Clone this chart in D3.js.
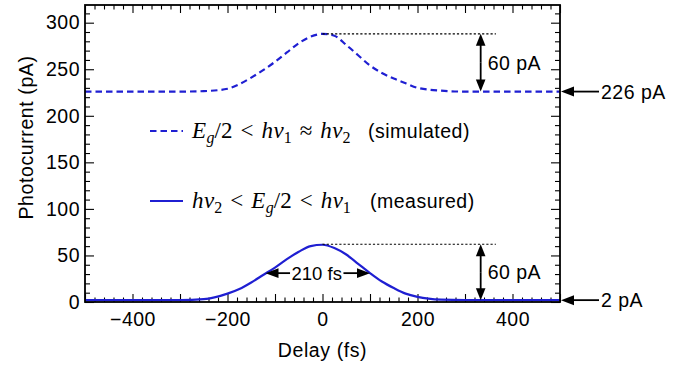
<!DOCTYPE html>
<html>
<head>
<meta charset="utf-8">
<script src="https://cdn.jsdelivr.net/npm/d3@7"></script>
<style>
  body { margin: 0; background: #fff; }
</style>
</head>
<body>
<div id="chart"></div>
<script>
// delay (fs) sample points and photocurrent (pA)
const delays    = [-500, -400, -300, -250, -200, -175, -150, -125, -100, -75, -50, -25, 0, 25, 50, 75, 100, 125, 150, 175, 200, 250, 300, 400, 500];
const simulated = [226, 226, 226, 226.5, 229, 234, 241, 249, 258, 268, 278, 285, 288, 286, 276, 265, 254, 246, 240, 235, 230, 227, 226, 226, 226];
const measured  = [2, 2, 2, 3, 9, 14, 21, 29, 37, 46, 54, 60, 61.5, 58, 51, 41, 31, 22, 15, 9, 5.5, 2.5, 2, 2, 2];

const xMajorTicks = [-500, -400, -300, -200, -100, 0, 100, 200, 300, 400, 500];
const xLabelTicks = [-400, -200, 0, 200, 400];
const yLabelTicks = [0, 50, 100, 150, 200, 250, 300];

// annotation values
const simBase = 226, simPeak = 288, measBase = 2, measPeak = 62;
const heightLabel = "60 pA";
const fwhmLeft = -120, fwhmRight = 100, fwhmLevel = 31, fwhmLabel = "210 fs";
const markerDelay = 333, dottedEnd = 365;

const W = 684, H = 367;
const margin = { top: 5, right: 124, bottom: 65, left: 85 };
const blue = "#1f1fd2";
const fontSize = 19.5;
const sans = "'Liberation Sans', Arial, sans-serif";
const serif = "'Liberation Serif', 'DejaVu Serif', serif";

const svg = d3.select("#chart").append("svg")
    .attr("width", W)
    .attr("height", H)
    .attr("font-family", sans);

const x = d3.scaleLinear().domain([-500, 500]).range([margin.left, W - margin.right]);
const y = d3.scaleLinear().domain([0, 319]).range([H - margin.bottom, margin.top]);

const x0 = margin.left, x1 = W - margin.right, y0 = H - margin.bottom, y1 = margin.top;

// ticks (all inward)
const tickAxis = (axis, scale, values, size, tx, ty) => svg.append("g")
    .attr("transform", `translate(${tx},${ty})`)
    .call(axis(scale).tickValues(values).tickSize(-size).tickFormat(""))
    .call(g => g.select(".domain").remove())
    .call(g => g.selectAll(".tick line").attr("stroke", "#000").attr("stroke-width", 1.1));

const xMinor = d3.range(-500, 501, 20).filter(v => v % 100 !== 0);
const yMinor = d3.range(0, 320, 10).filter(v => v % 50 !== 0);

tickAxis(d3.axisBottom, x, xMajorTicks, 8, 0, y0);
tickAxis(d3.axisBottom, x, xMinor, 4.5, 0, y0);
tickAxis(d3.axisTop, x, xMajorTicks, 8, 0, y1);
tickAxis(d3.axisTop, x, xMinor, 4.5, 0, y1);
tickAxis(d3.axisLeft, y, yLabelTicks, 9, x0, 0);
tickAxis(d3.axisLeft, y, yMinor, 5, x0, 0);
tickAxis(d3.axisRight, y, yLabelTicks, 9, x1, 0);
tickAxis(d3.axisRight, y, yMinor, 5, x1, 0);

// tick labels
svg.append("g")
    .attr("transform", `translate(0,${y0})`)
    .call(d3.axisBottom(x).tickValues(xLabelTicks).tickSize(0).tickPadding(10.5)
        .tickFormat(d => d < 0 ? "\u2212" + Math.abs(d) : d))
    .call(g => g.select(".domain").remove())
    .call(g => g.selectAll("text").attr("font-size", fontSize).attr("font-family", sans)
        .attr("fill", "#000").style("letter-spacing", "0.5px"));

svg.append("g")
    .attr("transform", `translate(${x0},0)`)
    .call(d3.axisLeft(y).tickValues(yLabelTicks).tickSize(0).tickPadding(5))
    .call(g => g.select(".domain").remove())
    .call(g => g.selectAll("text").attr("font-size", fontSize).attr("font-family", sans)
        .attr("fill", "#000").style("letter-spacing", "0.5px"));

// axis titles
svg.append("text")
    .attr("x", x(0))
    .attr("y", 357)
    .attr("text-anchor", "middle")
    .attr("font-size", fontSize)
    .style("letter-spacing", "0.6px")
    .text("Delay (fs)");

svg.append("text")
    .attr("transform", `translate(33,${(y0 + y1) / 2 - 16}) rotate(-90)`)
    .attr("text-anchor", "middle")
    .attr("font-size", fontSize)
    .style("letter-spacing", "0.6px")
    .text("Photocurrent (pA)");

// curves
const line = d3.line()
    .curve(d3.curveMonotoneX)
    .x(d => x(d[0]))
    .y(d => y(d[1]));

svg.append("path")
    .datum(delays.map((d, i) => [d, simulated[i]]))
    .attr("fill", "none")
    .attr("stroke", blue)
    .attr("stroke-width", 2.2)
    .attr("stroke-dasharray", "6.5,4")
    .attr("d", line);

svg.append("path")
    .datum(delays.map((d, i) => [d, measured[i]]))
    .attr("fill", "none")
    .attr("stroke", blue)
    .attr("stroke-width", 2.2)
    .attr("d", line);

// frame
svg.append("rect")
    .attr("x", x0).attr("y", y1)
    .attr("width", x1 - x0).attr("height", y0 - y1)
    .attr("fill", "none")
    .attr("stroke", "#000")
    .attr("stroke-width", 1.8);

// arrows
const arrow = (xa, ya, xb, yb, len = 12, half = 4.8) => {
    const ang = Math.atan2(yb - ya, xb - xa);
    const bx = xb - len * Math.cos(ang), by = yb - len * Math.sin(ang);
    svg.append("line")
        .attr("x1", xa).attr("y1", ya).attr("x2", bx + 1 * Math.cos(ang)).attr("y2", by + 1 * Math.sin(ang))
        .attr("stroke", "#000").attr("stroke-width", 1.8);
    svg.append("path")
        .attr("d", `M${xb},${yb}L${bx - half * Math.sin(ang)},${by + half * Math.cos(ang)}L${bx + half * Math.sin(ang)},${by - half * Math.cos(ang)}Z`)
        .attr("fill", "#000");
};

// dotted peak lines
[simPeak, measPeak].forEach(v => {
    svg.append("line")
        .attr("x1", x(0)).attr("x2", x(dottedEnd))
        .attr("y1", y(v)).attr("y2", y(v))
        .attr("stroke", "#000")
        .attr("stroke-width", 1.1)
        .attr("stroke-dasharray", "2.2,2");
});

// vertical 60 pA arrows
[[simBase, simPeak], [measBase, measPeak]].forEach(([lo, hi]) => {
    const mid = (y(lo) + y(hi)) / 2;
    arrow(x(markerDelay), mid, x(markerDelay), y(hi));
    arrow(x(markerDelay), mid, x(markerDelay), y(lo));
    svg.append("text")
        .attr("x", x(markerDelay) + 7)
        .attr("y", mid)
        .attr("dy", "0.36em")
        .attr("font-size", fontSize)
        .style("letter-spacing", "0.5px")
        .text(heightLabel);
});

// baseline arrows on the right
[[simBase, "226 pA"], [measBase, "2 pA"]].forEach(([v, label]) => {
    arrow(x1 + 39, y(v), x1 + 1, y(v), 13, 5);
    svg.append("text")
        .attr("x", x1 + 41)
        .attr("y", y(v))
        .attr("dy", "0.36em")
        .attr("font-size", fontSize)
        .style("letter-spacing", "0.5px")
        .text(label);
});

// FWHM arrows
{
    const cx = x((fwhmLeft + fwhmRight) / 2) - 1;
    const fy = y(fwhmLevel);
    const t = svg.append("text")
        .attr("x", cx)
        .attr("y", fy)
        .attr("dy", "0.36em")
        .attr("text-anchor", "middle")
        .attr("font-size", 18.5)
        .text(fwhmLabel);
    const tw = t.node().getComputedTextLength();
    arrow(cx - tw / 2 - 1.5, fy, x(fwhmLeft), fy, 13, 4.8);
    arrow(cx + tw / 2 + 1.5, fy, x(fwhmRight), fy, 13, 4.8);
}

// legend
const legend = [
    { dash: "6.5,4", y: 131, tokens: [
        ["E", "it"], ["g", "sub-it"], ["/2", ""], ["<", "rel"], ["h", "it"], ["\u03bd", "it"], ["1", "sub"],
        ["\u2248", "rel"], ["h", "it"], ["\u03bd", "it"], ["2", "sub"]], note: "(simulated)", noteX: 368 },
    { dash: null, y: 201, tokens: [
        ["h", "it"], ["\u03bd", "it"], ["2", "sub"], ["<", "rel"], ["E", "it"], ["g", "sub-it"], ["/2", ""],
        ["<", "rel"], ["h", "it"], ["\u03bd", "it"], ["1", "sub"]], note: "(measured)", noteX: 370 }
];

legend.forEach(item => {
    svg.append("line")
        .attr("x1", 150).attr("x2", 183)
        .attr("y1", item.y).attr("y2", item.y)
        .attr("stroke", blue)
        .attr("stroke-width", 2.2)
        .attr("stroke-dasharray", item.dash);

    const t = svg.append("text")
        .attr("x", 192)
        .attr("y", item.y + 7)
        .attr("font-family", serif)
        .attr("font-size", 23);
    let shift = 0;
    item.tokens.forEach(([s, kind], i) => {
        const ts = t.append("tspan").text(s);
        const isSub = kind.startsWith("sub");
        const dy = (isSub ? 5 : 0) - shift;
        shift = isSub ? 5 : 0;
        ts.attr("dy", dy);
        if (kind.includes("it")) ts.attr("font-style", "italic");
        if (isSub) ts.attr("font-size", 16);
        let dx = 0;
        if (kind === "rel") dx = 8;
        if (i > 0 && item.tokens[i - 1][1] === "rel") dx = 8;
        if (s === "\u03bd") dx += 0.5;
        if (kind === "sub-it") dx = 0.5;
        if (dx) ts.attr("dx", dx);
    });

    svg.append("text")
        .attr("x", item.noteX)
        .attr("y", item.y + 7)
        .attr("font-size", fontSize)
        .style("letter-spacing", "0.5px")
        .text(item.note);
});
</script>
</body>
</html>
